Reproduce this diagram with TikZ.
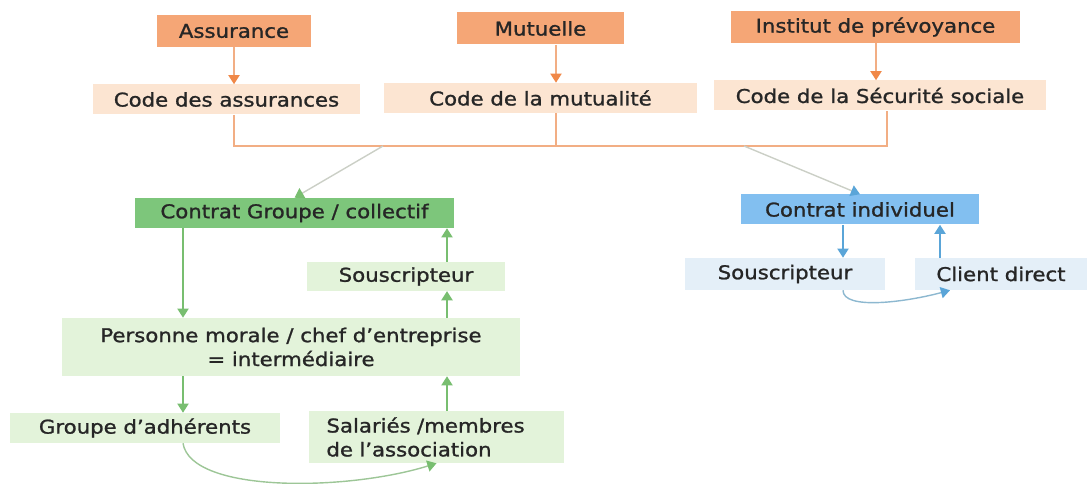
\documentclass[tikz,border=0pt]{standalone}
\usepackage{fontspec}
\setmainfont{DejaVu Sans}[FakeStretch=1.12,FakeBold=1.2]
\usetikzlibrary{arrows.meta}
\definecolor{orangebox}{HTML}{F5A676}
\definecolor{peachbox}{HTML}{FCE5D2}
\definecolor{orangeline}{HTML}{F2AE84}
\definecolor{orangetip}{HTML}{F08848}
\definecolor{greenbox}{HTML}{7DC67B}
\definecolor{lightgreen}{HTML}{E3F3DA}
\definecolor{greenline}{HTML}{78BE70}
\definecolor{bluebox}{HTML}{82BFF0}
\definecolor{lightblue}{HTML}{E4EFF8}
\definecolor{blueline}{HTML}{5AA5D8}
\definecolor{grayline}{HTML}{CBCFC6}

\begin{document}
\begin{tikzpicture}[x=0.025cm,y=-0.025cm,
    every node/.style={font=\fontsize{13.5}{17}\selectfont,text=black!85,inner sep=0pt,align=center},
    top/.style={fill=orangebox,minimum height=0.8cm},
    code/.style={fill=peachbox,minimum height=0.75cm},
    contrat/.style={minimum height=0.75cm},
    item/.style={fill=lightgreen,minimum height=0.72cm},
    indiv/.style={fill=lightblue,minimum height=0.8cm},
    tip/.style={-{Triangle[width=8pt,length=6.5pt]},line width=1pt}]
    \useasboundingbox (0,0) rectangle (1088,484);
    % providers and their codes
    \node (assurance) [top,minimum width=3.85cm] at (234,31) {Assurance};
    \node (mutuelle) [top,minimum width=4.175cm] at (540.5,28.5) {Mutuelle};
    \node (institut) [top,minimum width=7.225cm] at (875.5,27) {Institut de prévoyance};
    \node (codeassur) [code,minimum width=6.675cm] at (226.5,99.5) {Code des assurances};
    \node (codemutu) [code,minimum width=7.825cm] at (540.5,98) {Code de la mutualité};
    \node (codesecu) [code,minimum width=8.3cm] at (880,95.5) {Code de la Sécurité sociale};
    % contracts
    \node (groupe) [contrat,fill=greenbox,minimum width=7.975cm] at (294.5,213) {Contrat Groupe / collectif};
    \node (individuel) [contrat,fill=bluebox,minimum width=5.95cm] at (860,209.5) {Contrat individuel};
    \node (souscripteur) [item,minimum width=4.95cm] at (406,276.5) {Souscripteur};
    \node (morale) [item,minimum width=11.45cm,minimum height=1.45cm] at (291,347) {Personne morale / chef d’entreprise\\= intermédiaire};
    \node (adherents) [item,minimum width=6.75cm,minimum height=0.75cm] at (145,428) {Groupe d’adhérents};
    \node (salaries) [item,text width=5.5cm,inner xsep=0.425cm,minimum height=1.3cm,align=left] at (436.5,437) {Salariés /membres\\de l’association};
    \node (souscripteurind) [indiv,minimum width=5cm] at (785,274) {Souscripteur};
    \node (client) [indiv,minimum width=4.3cm] at (1001,274) {Client direct};
    % columns and joins
    \coordinate (colM) at (556,0);
    \coordinate (colI) at (876,0);
    \coordinate (colA) at (183,0);
    \coordinate (colB) at (447,0);
    \coordinate (colC) at (843,0);
    \coordinate (colD) at (940,0);
    \coordinate (colE) at (950,0);
    \coordinate (joinL) at (234,146);
    \coordinate (joinM) at (556,146);
    \coordinate (joinR) at (887,146);
    \coordinate (splitG) at (383,146);
    \coordinate (splitI) at (744,146);
    \path [tip,orangeline,-{Triangle[width=8pt,length=6.5pt,color=orangetip]}]
        (assurance.south) edge (assurance.south |- codeassur.north)
        (mutuelle.south -| colM) edge (codemutu.north -| colM)
        (institut.south -| colI) edge (codesecu.north -| colI);
    \draw [orangeline,line width=1pt] (codeassur.south -| joinL) -- (joinL) -- (joinR) -- (codesecu.south -| joinR);
    \draw [orangeline,line width=1pt] (codemutu.south -| joinM) -- (joinM);
    \draw [tip,grayline,-{Triangle[width=8pt,length=6.5pt,color=greenline]}] (splitG) -- (groupe.north);
    \draw [tip,grayline,-{Triangle[width=8pt,length=6.5pt,color=blueline]}] (splitI) -- (individuel.north);
    % group contract
    \path [tip,greenline]
        (groupe.south -| colA) edge (morale.north -| colA)
        (morale.south -| colA) edge (adherents.north -| colA)
        (salaries.north -| colB) edge (morale.south -| colB)
        (morale.north -| colB) edge (souscripteur.south -| colB)
        (souscripteur.north -| colB) edge (groupe.south -| colB);
    \draw [tip,greenline!55!grayline,-{Triangle[width=8pt,length=6.5pt,color=greenline]}] (adherents.south -| colA) .. controls +(8,50) and +(-90,28) .. (salaries.south);
    % individual contract
    \path [tip,blueline]
        (individuel.south -| colC) edge (souscripteurind.north -| colC)
        (client.north -| colD) edge (individuel.south -| colD);
    \draw [tip,blueline!55!grayline,-{Triangle[width=8pt,length=6.5pt,color=blueline]}] (souscripteurind.south -| colC) .. controls +(0,20) and +(-45,12) .. (client.south -| colE);
\end{tikzpicture}
\end{document}
